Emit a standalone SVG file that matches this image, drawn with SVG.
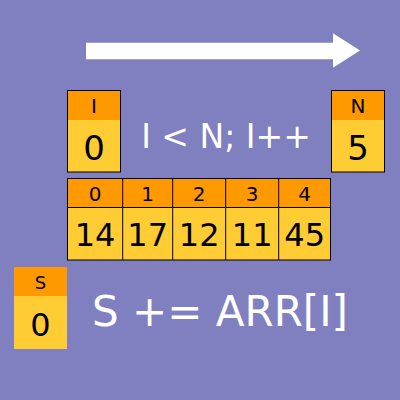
<svg xmlns="http://www.w3.org/2000/svg" width="400" height="400" viewBox="0 0 400 400">
<style>
.hd{fill:#FF9900}
.bd{fill:#FFCC33}
.bx{fill:none;stroke:#000;stroke-width:1}
.t{font-family:"DejaVu Sans",Verdana,sans-serif;fill:#000;text-anchor:middle}
.s{font-size:20px}
.b{font-size:34px}
.v{font-size:32px}
.w{font-family:"DejaVu Sans",Verdana,sans-serif;fill:#fff;text-anchor:middle}
</style>
<rect width="400" height="400" fill="#8080C0"/>
<g id="arrow">
<polygon points="86,42.7 333,42.7 333,33.3 360,50.5 333,67.7 333,59.3 86,59.3" fill="#fff"/>
</g>
<g id="var-I">
<rect x="67.5" y="90.5" width="53" height="30" class="hd"/>
<rect x="67.5" y="120" width="53" height="52" class="bd"/>
<rect x="67.5" y="90.5" width="53" height="81.5" class="bx"/>
<text x="94" y="113" class="t s">I</text>
<text x="94" y="160" class="t b">0</text>
</g>
<g id="loop-cond">
<text x="226" y="148" class="w" font-size="33">I &lt; N; I++</text>
</g>
<g id="var-N">
<rect x="331.5" y="90.5" width="53" height="30" class="hd"/>
<rect x="331.5" y="120" width="53" height="52" class="bd"/>
<rect x="331.5" y="90.5" width="53" height="81.5" class="bx"/>
<text x="358" y="113" class="t s">N</text>
<text x="358" y="160" class="t b">5</text>
</g>
<g id="array">
<rect x="67.5" y="178.5" width="263" height="29" class="hd"/>
<rect x="67.5" y="207.5" width="263" height="52.5" class="bd"/>
<rect x="67.5" y="178.5" width="263" height="81.5" class="bx"/>
<path d="M67.5,207.5H330.5M122.7,178.5V260M172.7,178.5V260M225.7,178.5V260M278.7,178.5V260" class="bx"/>
<text x="95" y="201" class="t s">0</text>
<text x="147.7" y="201" class="t s">1</text>
<text x="199.2" y="201" class="t s">2</text>
<text x="252.2" y="201" class="t s">3</text>
<text x="304.7" y="201" class="t s">4</text>
<text x="95" y="246" class="t v">14</text>
<text x="147.7" y="246" class="t v">17</text>
<text x="199.2" y="246" class="t v">12</text>
<text x="252.2" y="246" class="t v">11</text>
<text x="304.7" y="246" class="t v">45</text>
</g>
<g id="var-S">
<rect x="14" y="267" width="53" height="29" class="hd"/>
<rect x="14" y="296" width="53" height="53" class="bd"/>
<text x="40.5" y="289" class="t" font-size="18">S</text>
<text x="40.5" y="336" class="t v">0</text>
</g>
<g id="statement">
<text x="220" y="325.5" class="w" font-size="42">S += ARR[I]</text>
</g>
</svg>
